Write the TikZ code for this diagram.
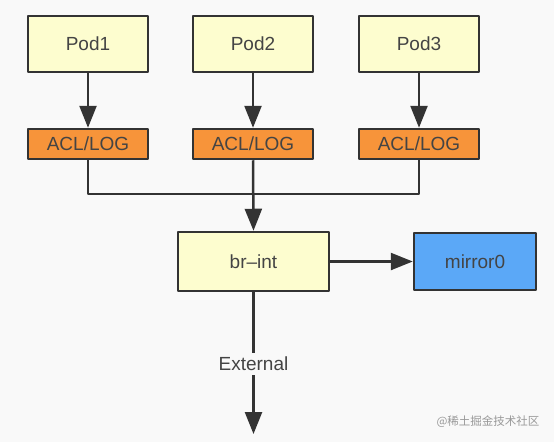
\documentclass[tikz,border=0pt]{standalone}
\usepackage{fontspec}
\setmainfont{Liberation Sans}
\newfontfamily\cjkfont{Noto Sans CJK SC}
\usetikzlibrary{arrows.meta}
\definecolor{bggray}{HTML}{F9F9F9}
\definecolor{edgegray}{HTML}{333333}
\definecolor{textgray}{HTML}{444444}
\definecolor{podyellow}{HTML}{FDFDCF}
\definecolor{aclorange}{HTML}{F7943A}
\definecolor{mirrorblue}{HTML}{5BA8F7}

\begin{document}
\begin{tikzpicture}[x=1pt, y=-1pt, line join=round,
    font=\fontsize{19}{22}\selectfont,
    box/.style={draw=edgegray, line width=2.5pt, inner sep=0pt, text=textgray},
    pod/.style={box, fill=podyellow, minimum width=120pt, minimum height=56pt},
    acl/.style={box, fill=aclorange, minimum width=120pt, minimum height=30pt},
    link/.style={draw=edgegray, line width=2.5pt},
    arr/.style={link, -{Triangle[width=17pt, length=22pt]}}]

    % Canvas 554 x 442, y grows downwards
    \fill[bggray] (0, 0) rectangle (554, 442);
    \useasboundingbox (0, 0) rectangle (554, 442);

    % Pods and their ACL/LOG stages, columns at x = 88, 253, 419
    \node[pod] (pod1) at (88, 44)  {Pod1};
    \node[pod] (pod2) at (253, 44) {Pod2};
    \node[pod] (pod3) at (419, 44) {Pod3};

    \node[acl] (acl1) at (88, 144)  {ACL/LOG};
    \node[acl] (acl2) at (253, 144) {ACL/LOG};
    \node[acl] (acl3) at (419, 144) {ACL/LOG};

    % Bridge and mirror port
    \node[box, fill=podyellow, minimum width=151pt, minimum height=59pt]
        (brint) at (253.5, 261.5) {br\textendash int};
    \node[box, fill=mirrorblue, minimum width=122pt, minimum height=57pt]
        (mirror) at (475, 261.5) {mirror0};

    % Uplink label and its free end
    \node[text=textgray, inner sep=4pt] (ext) at (253.5, 364) {External};
    \coordinate (out) at (253.5, 434);
    \coordinate (bus) at (253, 194);

    % Pod -> ACL/LOG
    \draw[arr] (pod1) -- (acl1);
    \draw[arr] (pod2) -- (acl2);
    \draw[arr] (pod3) -- (acl3);

    % ACL/LOG stages merge into br-int
    \draw[link] (acl1.south) |- (bus) -| (acl3.south);
    \draw[arr]  (acl2.south) -- (brint.north);

    % br-int -> mirror0, br-int -> External
    \draw[arr]  (brint) -- (mirror);
    \draw[link] (brint.south) -- (ext.north);
    \draw[arr]  (ext.south) -- (out);

    % Watermark
    \node[text=black!40, font=\cjkfont\fontsize{11.5}{13}\selectfont]
        (mark) at (488, 422) {@稀土掘金技术社区};

\end{tikzpicture}
\end{document}
